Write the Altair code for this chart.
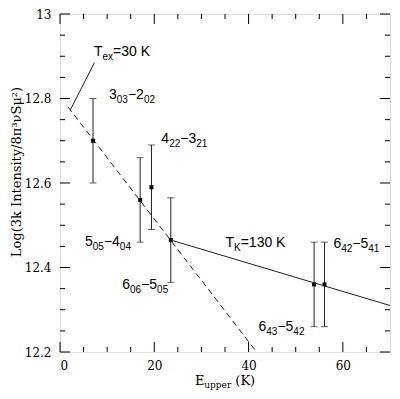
import altair as alt
import pandas as pd

W, H = 330, 338
XMIN, XMAX = 0, 70
YMIN, YMAX = 12.2, 13.0

# ---- data ----
e_upper = [7.0, 17.0, 19.4, 23.5, 53.9, 56.1]
log_int = [12.70, 12.56, 12.59, 12.465, 12.36, 12.36]
err = [0.1, 0.1, 0.1, 0.1, 0.1, 0.1]

dash_x = [1.7, 41.7]
dash_y = [12.78, 12.2]
solid_x = [23.5, 70.0]
solid_y = [12.465, 12.31]
leader_x = [2.2, 7.3]
leader_y = [12.773, 12.885]

x_major = [0, 20, 40, 60]
x_minor = [5, 10, 15, 25, 30, 35, 45, 50, 55, 65]
y_major = [12.2, 12.4, 12.6, 12.8, 13.0]
y_minor = [12.25, 12.3, 12.35, 12.45, 12.5, 12.55, 12.65, 12.7, 12.75, 12.85, 12.9, 12.95]

# labels: (segments, x, y)  segments: (text, is_subscript)
labels = [
    ([("T", 0), ("ex", 1), ("=30 K", 0)], 7.2, 12.90),
    ([("3", 0), ("03", 1), ("\u22122", 0), ("02", 1)], 10.4, 12.798),
    ([("4", 0), ("22", 1), ("\u22123", 0), ("21", 1)], 21.5, 12.695),
    ([("5", 0), ("05", 1), ("\u22124", 0), ("04", 1)], 5.3, 12.451),
    ([("6", 0), ("06", 1), ("\u22125", 0), ("05", 1)], 13.2, 12.349),
    ([("T", 0), ("K", 1), ("=130 K", 0)], 35.1, 12.449),
    ([("6", 0), ("42", 1), ("\u22125", 0), ("41", 1)], 58.0, 12.447),
    ([("6", 0), ("43", 1), ("\u22125", 0), ("42", 1)], 42.1, 12.25),
]
y_title = "Log(3k Intensity/8\u03c0\u00b3\u03bdS\u03bc\u00b2)"
x_title = [("E", 0), ("upper", 1), (" ", 0), ("(K)", 0)]

MAIN, SUB = 14, 10
LAB_FONT = "Liberation Sans"
AX_FONT = "DejaVu Serif"

sans_w = {"T": .611, "K": .667, " ": .278, "e": .556, "x": .5, "=": .584, "\u2212": .584}
serif_w = {"E": .715, "u": .644, "p": .640, "e": .592, "r": .478, " ": .318, "(": .390, ")": .390, "K": .737}


def width(txt, size, table, default=.556):
    return sum(table.get(c, default) for c in txt) * size


px_per_x = W / (XMAX - XMIN)
px_per_y = H / (YMAX - YMIN)

main_rows, sub_rows = [], []
for segs, lx, ly in labels:
    off = 0.0
    for txt, is_sub in segs:
        size = SUB if is_sub else MAIN
        row = {"x": lx + off / px_per_x, "y": ly, "t": txt}
        (sub_rows if is_sub else main_rows).append(row)
        off += width(txt, size, sans_w)

main_df = pd.DataFrame(main_rows)
sub_df = pd.DataFrame(sub_rows)

pts = pd.DataFrame({"x": e_upper, "y": log_int,
                    "lo": [v - e for v, e in zip(log_int, err)],
                    "hi": [v + e for v, e in zip(log_int, err)]})
caps = pd.DataFrame({"x": e_upper * 2,
                     "y": list(pts["lo"]) + list(pts["hi"])})

xs = alt.Scale(domain=[XMIN, XMAX], nice=False, zero=False)
ys = alt.Scale(domain=[YMIN, YMAX], nice=False, zero=False)
xaxis = alt.Axis(values=x_major, format="d", title=None, ticks=False, tickSize=0,
                 domain=False, grid=False, labelFont=AX_FONT, labelFontSize=12,
                 labelColor="black", labelPadding=8)
yaxis = alt.Axis(values=y_major, format="~g", title=None, ticks=False, tickSize=0,
                 domain=False, grid=False, labelFont=AX_FONT, labelFontSize=12,
                 labelColor="black", labelPadding=9)


def X(f="x"):
    return alt.X(f"{f}:Q", scale=xs, axis=xaxis)


def Y(f="y"):
    return alt.Y(f"{f}:Q", scale=ys, axis=yaxis)


layers = []

# error bars
layers.append(alt.Chart(pts).mark_rule(color="#222", strokeWidth=1).encode(
    x=X(), y=Y("lo"), y2="hi:Q"))
layers.append(alt.Chart(caps).mark_tick(orient="horizontal", size=7, thickness=1,
                                        color="#222").encode(x=X(), y=Y()))
# points
layers.append(alt.Chart(pts).mark_square(size=16, color="black", opacity=1).encode(
    x=X(), y=Y()))

# lines
layers.append(alt.Chart(pd.DataFrame({"x": dash_x, "y": dash_y})).mark_line(
    color="#222", strokeWidth=1, strokeDash=[6, 4]).encode(x=X(), y=Y()))
layers.append(alt.Chart(pd.DataFrame({"x": solid_x, "y": solid_y})).mark_line(
    color="#222", strokeWidth=1).encode(x=X(), y=Y()))
layers.append(alt.Chart(pd.DataFrame({"x": leader_x, "y": leader_y})).mark_line(
    color="#222", strokeWidth=1).encode(x=X(), y=Y()))

# inward ticks on all four sides
rows = []
for vals, ln in [(x_major, 10), (x_minor, 5)]:
    for v in vals:
        rows.append({"x": v, "x2": v, "y": YMIN, "y2": YMIN + ln / px_per_y})
        rows.append({"x": v, "x2": v, "y": YMAX, "y2": YMAX - ln / px_per_y})
for vals, ln in [(y_major, 10), (y_minor, 5)]:
    for v in vals:
        rows.append({"y": v, "y2": v, "x": XMIN, "x2": XMIN + ln / px_per_x})
        rows.append({"y": v, "y2": v, "x": XMAX, "x2": XMAX - ln / px_per_x})
ticks_df = pd.DataFrame(rows)
layers.append(alt.Chart(ticks_df).mark_rule(color="black", strokeWidth=1).encode(
    x=X(), x2="x2:Q", y=Y(), y2="y2:Q"))

# annotations
layers.append(alt.Chart(main_df).mark_text(align="left", baseline="alphabetic",
                                           font=LAB_FONT, fontSize=MAIN, color="black").encode(
    x=X(), y=Y(), text="t:N"))
layers.append(alt.Chart(sub_df).mark_text(align="left", baseline="alphabetic",
                                          font=LAB_FONT, fontSize=SUB, dy=4, color="black").encode(
    x=X(), y=Y(), text="t:N"))

# y axis title (rotated text)
layers.append(alt.Chart(pd.DataFrame({"t": [y_title]})).mark_text(
    angle=270, align="center", baseline="middle", font=AX_FONT, fontSize=13,
    color="black").encode(x=alt.value(-43), y=alt.value(158), text="t:N"))

# x axis title built from pieces
tot = sum(width(t, 9 if s else 13, serif_w) for t, s in x_title)
start = W / 2 - tot / 2
off = 0.0
for txt, is_sub in x_title:
    size = 9 if is_sub else 13
    if txt.strip():
        layers.append(alt.Chart(pd.DataFrame({"t": [txt]})).mark_text(
            align="left", baseline="alphabetic", font=AX_FONT, fontSize=size,
            color="black", dy=3 if is_sub else 0).encode(
            x=alt.value(start + off), y=alt.value(H + 33), text="t:N"))
    off += width(txt, size, serif_w)

chart = alt.layer(*layers).properties(
    width=W, height=H,
    autosize=alt.AutoSizeParams(type="none"),
    padding={"left": 52, "top": 6, "right": 2, "bottom": 39},
).configure_view(stroke="black", strokeWidth=1).configure(background="white")

chart.save("out.html", embed_options={"renderer": "svg", "actions": False})
